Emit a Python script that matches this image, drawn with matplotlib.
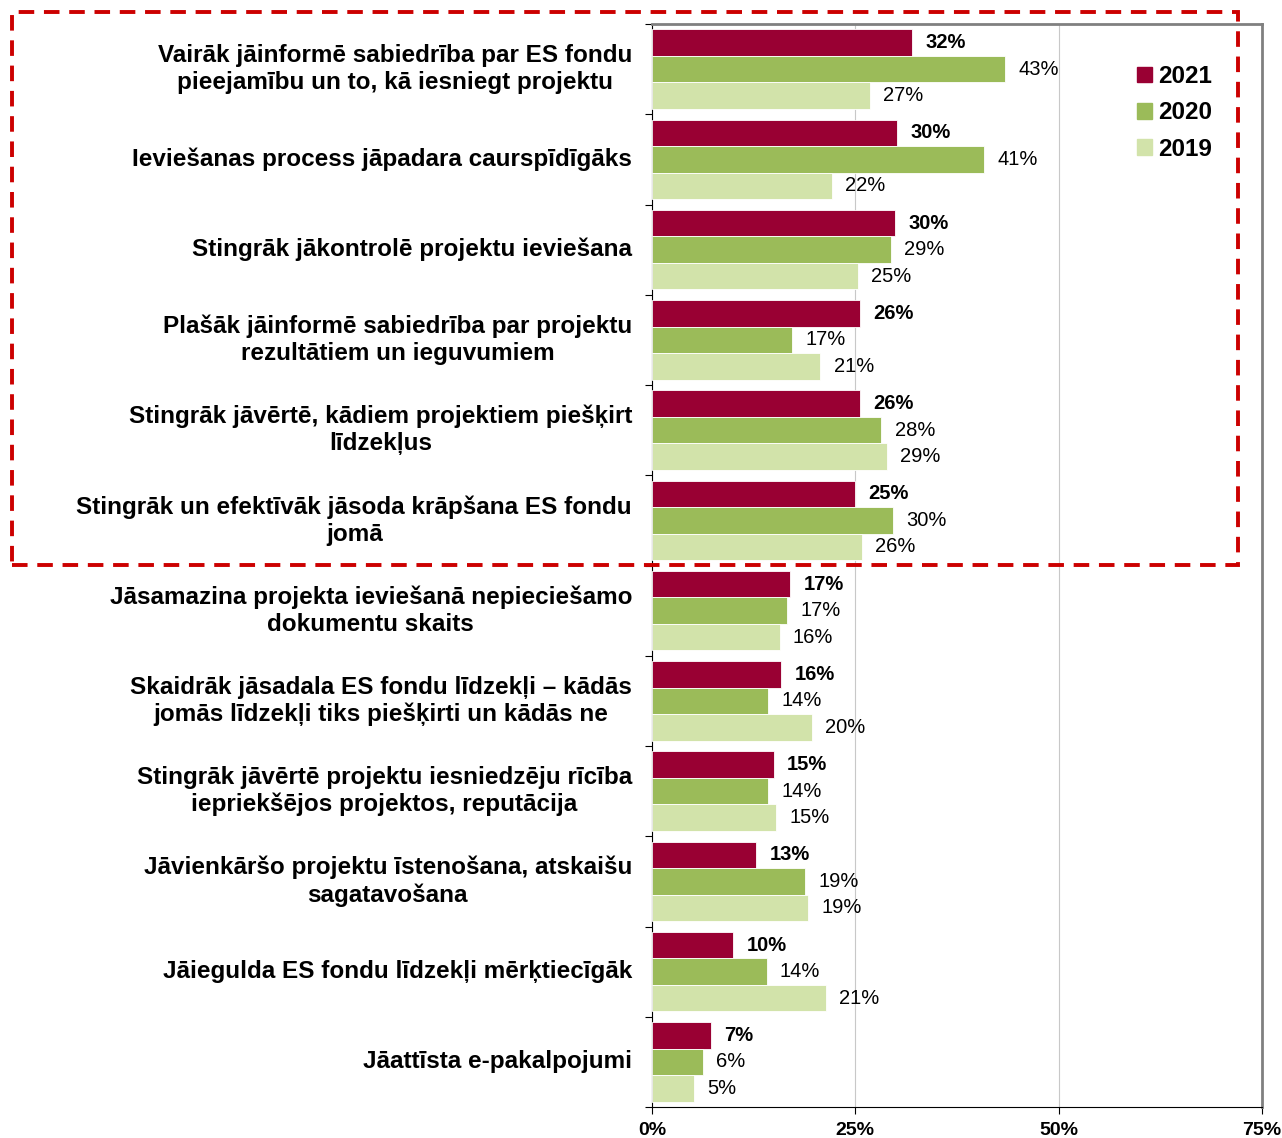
import matplotlib.pyplot as plt
import numpy as np
from matplotlib.patches import Rectangle, Patch

plt.rcParams['font.family'] = ['Liberation Sans', 'DejaVu Sans']

categories = [
    "Vairāk jāinformē sabiedrība par ES fondu\npieejamību un to, kā iesniegt projektu",
    "Ieviešanas process jāpadara caurspīdīgāks",
    "Stingrāk jākontrolē projektu ieviešana",
    "Plašāk jāinformē sabiedrība par projektu\nrezultātiem un ieguvumiem",
    "Stingrāk jāvērtē, kādiem projektiem piešķirt\nlīdzekļus",
    "Stingrāk un efektīvāk jāsoda krāpšana ES fondu\njomā",
    "Jāsamazina projekta ieviešanā nepieciešamo\ndokumentu skaits",
    "Skaidrāk jāsadala ES fondu līdzekļi – kādās\njomās līdzekļi tiks piešķirti un kādās ne",
    "Stingrāk jāvērtē projektu iesniedzēju rīcība\niepriekšējos projektos, reputācija",
    "Jāvienkāršo projektu īstenošana, atskaišu\nsagatavošana",
    "Jāiegulda ES fondu līdzekļi mērķtiecīgāk",
    "Jāattīsta e-pakalpojumi",
]

# percentages
v2021 = [32.0, 30.1, 29.9, 25.6, 25.6, 25.0, 17.0, 15.9, 15.0, 12.8, 10.0, 7.3]
v2020 = [43.4, 40.8, 29.4, 17.2, 28.2, 29.6, 16.6, 14.3, 14.3, 18.8, 14.1, 6.3]
v2019 = [26.8, 22.1, 25.3, 20.7, 28.9, 25.8, 15.7, 19.7, 15.3, 19.2, 21.4, 5.2]

series = ["2021", "2020", "2019"]
colors = ["#990033", "#9BBB59", "#D2E3AA"]
xticks = [0, 25, 50, 75]

fig = plt.figure(figsize=(12.82, 11.38), dpi=100)
ax = fig.add_axes([652 / 1282, 1 - 1107 / 1138, 610 / 1282, 1083 / 1138])

n = len(categories)
y = np.arange(n)
h = 0.293
data = [v2021, v2020, v2019]
for k, (vals, col, name) in enumerate(zip(data, colors, series)):
    pos = y + (k - 1) * h
    ax.barh(pos, vals, height=h, color=col, edgecolor='white', linewidth=0.6, label=name, zorder=3)
    for p, v in zip(pos, vals):
        ax.annotate(f"{round(v)}%", (v, p), xytext=(9.5, 0), textcoords='offset points',
                    va='center', ha='left', fontsize=14.5,
                    fontweight='bold' if k == 0 else 'normal', zorder=4)

ax.set_ylim(n - 0.5, -0.5)
ax.set_xlim(0, 75)
ax.set_xticks(xticks)
ax.set_xticklabels([f"{t}%" for t in xticks], fontweight='bold', fontsize=14)
ax.tick_params(axis='x', direction='out', length=5, pad=6)

ax.set_yticks(np.arange(n + 1) - 0.5, minor=False)
ax.set_yticklabels([])
ax.tick_params(axis='y', direction='out', length=5)
for i, c in enumerate(categories):
    ax.text(-20 / 610 * 75, i, c, ha='right', va='center', multialignment='center',
            fontsize=17.5, fontweight='bold', linespacing=1.22, clip_on=False)

ax.grid(axis='x', color='#C8C8C8', linewidth=0.8, zorder=0)
for s in ['top', 'right']:
    ax.spines[s].set_color('#808080')
    ax.spines[s].set_linewidth(2)
ax.spines['left'].set_color('black')
ax.spines['bottom'].set_color('black')

handles = [Patch(color=c, label=s) for c, s in zip(colors, series)]
ax.legend(handles=handles, loc='upper left', bbox_to_anchor=(1120 / 1282, 1 - 48 / 1138),
          bbox_transform=fig.transFigure, frameon=False, prop={'weight': 'bold', 'size': 17.5},
          handlelength=0.6, handleheight=0.6, handletextpad=0.25, labelspacing=0.55,
          borderpad=0.2)

# dashed highlight box around the top six items
fig.patches.append(Rectangle((12 / 1282, 1 - 565 / 1138), 1226 / 1282, 553 / 1138,
                             transform=fig.transFigure, fill=False, edgecolor='#CC0000',
                             linestyle=(0, (4, 2.5)), linewidth=2.8, zorder=10))

fig.savefig("out.png", dpi=100)
